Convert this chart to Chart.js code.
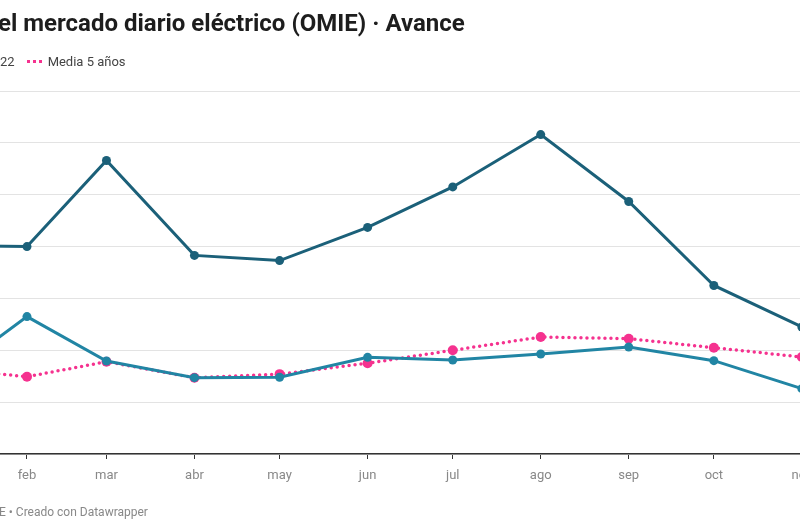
<!DOCTYPE html>
<html>
<head>
<meta charset="utf-8">
<script src="https://cdn.jsdelivr.net/npm/chart.js@4.4.1/dist/chart.umd.min.js"></script>
<style>
  html, body { margin: 0; padding: 0; background: #fff; }
  body { width: 800px; height: 530px; overflow: hidden; position: relative; font-family: Roboto, "Noto Sans", sans-serif; }
  #wrap { position: absolute; left: -100px; top: 0; width: 1100px; height: 530px; }
  #title { position: absolute; left: -2px; top: 9px; font-weight: 700; font-size: 24px; color: #1d1d1d; white-space: nowrap; z-index: 2; }
  #legend { position: absolute; left: 0; top: 54px; font-size: 13px; color: #444; white-space: nowrap; z-index: 2; display: flex; align-items: center; }
  #legend .dots { display: inline-block; width: 15px; height: 0; border-top: 3px dotted #f5328f; margin: 0 6px 0 12px; }
  #footer { position: absolute; left: -1px; top: 505px; font-size: 12px; color: #888; white-space: nowrap; z-index: 2; }
</style>
</head>
<body>
<div id="title">el mercado diario eléctrico (OMIE) · Avance</div>
<div id="legend"><span>22</span><span class="dots"></span><span>Media 5 años</span></div>
<div id="footer">E • Creado con Datawrapper</div>
<div id="wrap"><canvas id="c" width="1100" height="530"></canvas></div>
<script>
// ---- data ----
const months = ['ene','feb','mar','abr','may','jun','jul','ago','sep','oct','nov','dic'];
const values2023 = [69.6, 132.5, 89.7, 73.6, 74.0, 93.2, 90.6, 96.4, 103.2, 90.0, 63.0];
const values2022 = [201.0, 200.0, 283.0, 191.5, 186.5, 218.5, 257.5, 308.0, 243.5, 162.5, 122.5];
const media5 = [83.0, 74.5, 89.0, 73.5, 77.0, 87.5, 100.0, 112.8, 111.2, 102.5, 93.5];
const yTicks = [0, 50, 100, 150, 200, 250, 300, 350];

// day of year of the first of each month
const dayOf = i => Math.round((Date.UTC(2023, i, 1) - Date.UTC(2023, 0, 1)) / 864e5);
const monthDays = months.map((m, i) => dayOf(i));
const toPts = arr => arr.map((v, i) => ({ x: monthDays[i], y: v }));

const DARK = '#1b6079', TEAL = '#2185a4', PINK = '#f5328f';

new Chart(document.getElementById('c'), {
  type: 'line',
  data: {
    datasets: [
      { label: '2023', data: toPts(values2023), borderColor: TEAL, backgroundColor: TEAL,
        borderWidth: 3, pointRadius: 4.5, pointBorderWidth: 0, tension: 0, order: 1 },
      { label: '2022', data: toPts(values2022), borderColor: DARK, backgroundColor: DARK,
        borderWidth: 3, pointRadius: 4.5, pointBorderWidth: 0, tension: 0, order: 2 },
      { label: 'Media 5 años', data: toPts(media5), borderColor: PINK, backgroundColor: PINK,
        borderWidth: 3.5, borderDash: [0, 6], borderCapStyle: 'round',
        pointRadius: 5, pointBorderWidth: 0, tension: 0, order: 3 }
    ]
  },
  options: {
    responsive: false,
    animation: false,
    events: [],
    layout: { padding: { left: 39, right: 113, top: 91, bottom: 36 } },
    plugins: { legend: { display: false }, tooltip: { enabled: false }, title: { display: false } },
    scales: {
      x: {
        type: 'linear',
        min: monthDays[0],
        max: monthDays[11],
        afterBuildTicks: s => { s.ticks = monthDays.map(d => ({ value: d })); },
        afterFit: s => { s.height = 40; },
        grid: { display: true, drawOnChartArea: false, drawTicks: true, tickLength: 5, color: '#333', lineWidth: 1 },
        border: { display: true, color: '#333', width: 1.5 },
        ticks: {
          autoSkip: false, maxRotation: 0, padding: 9, color: '#888',
          font: { family: 'Roboto', size: 13 },
          callback: v => months[monthDays.indexOf(v)] || ''
        }
      },
      y: {
        min: yTicks[0],
        max: yTicks[yTicks.length - 1],
        afterBuildTicks: s => { s.ticks = yTicks.map(v => ({ value: v })); },
        afterFit: s => { s.width = 0; },
        grid: { color: '#e3e3e3', lineWidth: 1, drawTicks: false },
        border: { display: false },
        ticks: { display: false }
      }
    }
  }
});
</script>
</body>
</html>
